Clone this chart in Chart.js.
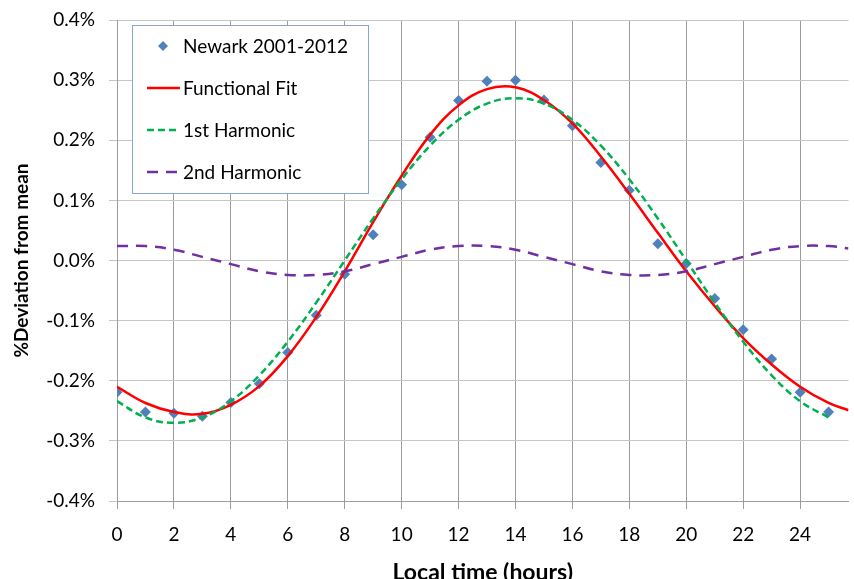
<!DOCTYPE html>
<html>
<head>
<meta charset="utf-8">
<title>Newark diurnal deviation</title>
<script src="https://cdn.jsdelivr.net/npm/chart.js@4.4.1/dist/chart.umd.min.js"></script>
<style>
  html, body { margin: 0; padding: 0; background: #fff; }
  #wrap { width: 854px; height: 579px; position: relative; }
</style>
</head>
<body>
<div id="wrap"><canvas id="devChart"></canvas></div>
<script>
// --- data (values in % deviation from mean) ---
const obsHours = [0, 1, 2, 3, 4, 5, 6, 7, 8, 9, 10, 11, 12, 13, 14, 15, 16, 17, 18, 19, 20, 21, 22, 23, 24, 25];
const newarkObs = [-0.219, -0.252, -0.254, -0.259, -0.236, -0.205, -0.153, -0.091, -0.023, 0.043, 0.126, 0.205, 0.266,
                   0.298, 0.300, 0.267, 0.224, 0.163, 0.117, 0.028, -0.005, -0.063, -0.115, -0.164, -0.219, -0.252];

const curveHours = [0, 1, 2, 3, 4, 5, 6, 7, 8, 9, 10, 11, 12, 13, 14, 15, 16, 17, 18, 19, 20, 21, 22, 23, 24, 25, 25.7];
const functionalFit = [-0.210, -0.237, -0.252, -0.255, -0.240, -0.209, -0.159, -0.094, -0.018, 0.064, 0.141, 0.209, 0.258,
                       0.285, 0.288, 0.267, 0.228, 0.173, 0.111, 0.046, -0.018, -0.076, -0.129, -0.173, -0.210, -0.237, -0.249];
const harmonic1 = [-0.234, -0.261, -0.270, -0.261, -0.234, -0.191, -0.135, -0.070, 0.000, 0.070, 0.135, 0.191, 0.234,
                   0.261, 0.270, 0.261, 0.234, 0.191, 0.135, 0.070, 0.000, -0.070, -0.135, -0.191, -0.234, -0.261];
const harmonic2 = [0.024, 0.024, 0.018, 0.006, -0.006, -0.018, -0.024, -0.024, -0.018, -0.006, 0.006, 0.018, 0.024,
                   0.024, 0.018, 0.006, -0.006, -0.018, -0.024, -0.024, -0.018, -0.006, 0.006, 0.018, 0.024, 0.024, 0.020];

const xTicks = [0, 2, 4, 6, 8, 10, 12, 14, 16, 18, 20, 22, 24];
const yTicks = [-0.4, -0.3, -0.2, -0.1, 0.0, 0.1, 0.2, 0.3, 0.4];

const seriesNames = ['Newark 2001-2012', 'Functional Fit', '1st Harmonic', '2nd Harmonic'];

// --- colours ---
const COLORS = {
    obs: '#4f81bd',
    fit: '#ff0000',
    h1: '#00b050',
    h2: '#7030a0',
    gridV: '#9c9c9c',
    gridH: '#c6c6c6',
    legendBorder: '#86a4d4'
};
const FONT = 'Lato';

const pairs = (xs, ys) => ys.map((y, i) => ({ x: xs[i], y: y }));

// legend box drawn inside the plot, like the Excel original
const insideLegend = {
    id: 'insideLegend',
    afterDatasetsDraw(chart) {
        const ctx = chart.ctx;
        const box = { x: 132.5, y: 25.5, w: 236, h: 168 };
        ctx.save();
        ctx.fillStyle = '#fff';
        ctx.fillRect(box.x, box.y, box.w, box.h);
        ctx.strokeStyle = COLORS.legendBorder;
        ctx.lineWidth = 1;
        ctx.strokeRect(box.x, box.y, box.w, box.h);

        const rows = [46, 88, 130, 172];
        const sw = { x0: 147, x1: 180 };

        // diamond marker
        ctx.fillStyle = COLORS.obs;
        ctx.beginPath();
        ctx.moveTo(163, rows[0] - 5);
        ctx.lineTo(168, rows[0]);
        ctx.lineTo(163, rows[0] + 5);
        ctx.lineTo(158, rows[0]);
        ctx.closePath();
        ctx.fill();

        const lines = [
            { c: COLORS.fit, dash: [] },
            { c: COLORS.h1, dash: [7, 4] },
            { c: COLORS.h2, dash: [11, 8] }
        ];
        lines.forEach((l, i) => {
            ctx.strokeStyle = l.c;
            ctx.lineWidth = 2.5;
            ctx.setLineDash(l.dash);
            ctx.beginPath();
            ctx.moveTo(sw.x0, rows[i + 1]);
            ctx.lineTo(sw.x1, rows[i + 1]);
            ctx.stroke();
        });
        ctx.setLineDash([]);

        ctx.font = '19px ' + FONT;
        ctx.textBaseline = 'middle';
        ctx.fillStyle = '#000';
        seriesNames.forEach((name, i) => ctx.fillText(name, 183, rows[i] + 1));
        ctx.restore();
    }
};

const ctx = document.getElementById('devChart').getContext('2d');
new Chart(ctx, {
    type: 'line',
    data: {
        datasets: [
            {
                label: seriesNames[0],
                type: 'scatter',
                data: pairs(obsHours, newarkObs),
                pointStyle: 'rectRot',
                pointRadius: 5.5,
                pointBackgroundColor: COLORS.obs,
                pointBorderWidth: 0,
                showLine: false,
                order: 4
            },
            {
                label: seriesNames[1],
                data: pairs(curveHours, functionalFit),
                borderColor: COLORS.fit,
                borderWidth: 2.5,
                pointRadius: 0,
                tension: 0.4,
                order: 3
            },
            {
                label: seriesNames[2],
                data: pairs(obsHours, harmonic1),
                borderColor: COLORS.h1,
                borderWidth: 2.5,
                borderDash: [7, 4],
                pointRadius: 0,
                tension: 0.4,
                order: 2
            },
            {
                label: seriesNames[3],
                data: pairs(curveHours, harmonic2),
                borderColor: COLORS.h2,
                borderWidth: 2.5,
                borderDash: [11, 8],
                pointRadius: 0,
                tension: 0.4,
                order: 1
            }
        ]
    },
    options: {
        responsive: true,
        maintainAspectRatio: false,
        animation: false,
        layout: { padding: { top: 20, right: 0, left: 0, bottom: 0 } },
        plugins: {
            legend: { display: false },
            tooltip: { enabled: false }
        },
        scales: {
            x: {
                type: 'linear',
                min: 0,
                max: 25.7,
                afterBuildTicks(axis) {
                    axis.ticks = xTicks.map(v => ({ value: v }));
                },
                afterFit(axis) {
                    axis.height = 78;
                    axis.paddingLeft = 0;
                    axis.paddingRight = 0;
                },
                ticks: {
                    color: '#000',
                    padding: 14,
                    maxRotation: 0,
                    autoSkip: false,
                    font: { family: FONT, size: 19 }
                },
                grid: { color: COLORS.gridV, tickLength: 8, lineWidth: 1 },
                border: { color: COLORS.gridV },
                title: {
                    display: true,
                    text: 'Local time (hours)',
                    color: '#000',
                    font: { family: FONT, size: 23, weight: 'bold', lineHeight: 1 },
                    padding: { top: 0, bottom: -5 }
                }
            },
            y: {
                min: yTicks[0],
                max: yTicks[yTicks.length - 1],
                afterBuildTicks(axis) {
                    axis.ticks = yTicks.map(v => ({ value: v }));
                },
                afterFit(axis) {
                    axis.width = 117;
                    axis.paddingTop = 0;
                    axis.paddingBottom = 0;
                },
                ticks: {
                    color: '#000',
                    padding: 14,
                    font: { family: FONT, size: 19 },
                    callback: v => (Math.abs(v) < 1e-9 ? 0 : v).toFixed(1) + '%'
                },
                grid: { color: COLORS.gridH, tickLength: 8, lineWidth: 1 },
                border: { color: COLORS.gridV },
                title: {
                    display: true,
                    text: '%Deviation from mean',
                    color: '#000',
                    font: { family: FONT, size: 19, weight: 'bold', lineHeight: 1 },
                    padding: { top: 12, bottom: 0 }
                }
            }
        }
    },
    plugins: [insideLegend]
});
</script>
</body>
</html>
